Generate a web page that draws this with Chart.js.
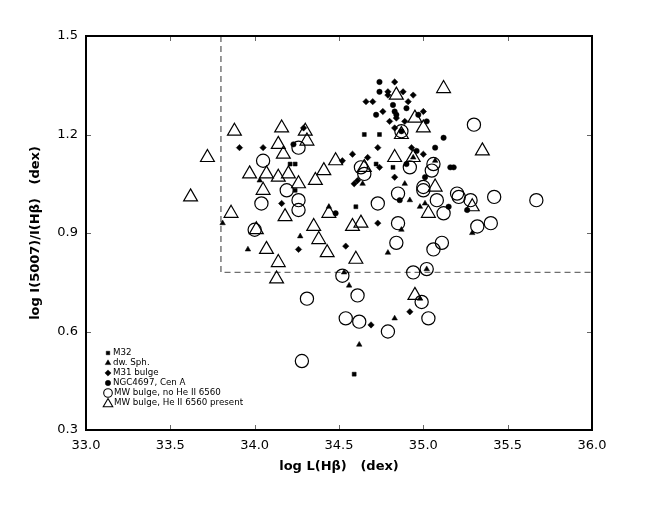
<!DOCTYPE html>
<html>
<head>
<meta charset="utf-8">
<script src="https://cdn.jsdelivr.net/npm/chart.js@4/dist/chart.umd.min.js"></script>
<style>
  body { margin: 0; background: #fff; }
  canvas { display: block; }
</style>
</head>
<body>
<canvas id="chart" width="660" height="510"></canvas>
<script>
// values
const xTicks = [33.0, 33.5, 34.0, 34.5, 35.0, 35.5, 36.0];
const yTicks = [0.3, 0.6, 0.9, 1.2, 1.5];

const m32X = [34.21, 34.24, 34.24, 34.65, 34.74, 34.72, 34.82, 34.60, 34.59];
const m32Y = [1.11, 1.11, 1.03, 1.20, 1.20, 1.11, 1.10, 0.98, 0.47];

const dwSphX = [34.03, 33.81, 34.27, 33.96, 34.64, 34.89, 35.07, 34.94, 34.92, 34.98, 34.44,
  34.79, 34.53, 34.56, 34.83, 34.62, 35.02, 35.01, 35.29, 34.98, 34.87];
const dwSphY = [1.06, 0.93, 0.89, 0.85, 1.05, 1.05, 1.12, 1.13, 1.00, 0.98, 0.98,
  0.84, 0.78, 0.74, 0.64, 0.56, 0.79, 0.99, 0.90, 0.70, 0.91];

const m31X = [33.91, 34.05, 34.29, 34.16, 34.26, 34.83, 34.79, 34.79, 34.88, 34.94, 34.66,
  34.70, 34.91, 34.76, 35.00, 34.80, 34.84, 34.89, 34.83, 34.73, 34.93, 35.00, 34.58,
  34.67, 34.52, 34.74, 34.83, 34.61, 34.59, 34.73, 34.54, 34.92, 34.69];
const m31Y = [1.16, 1.16, 1.22, 0.99, 0.85, 1.36, 1.33, 1.32, 1.33, 1.32, 1.30,
  1.30, 1.30, 1.27, 1.27, 1.24, 1.25, 1.24, 1.22, 1.16, 1.16, 1.14, 1.14,
  1.13, 1.12, 1.10, 1.07, 1.06, 1.05, 0.93, 0.86, 0.66, 0.62];

const ngcX = [34.74, 34.74, 34.82, 34.90, 34.72, 34.83, 34.84, 34.97, 35.02, 34.87, 35.12,
  35.07, 34.96, 34.90, 35.01, 35.18, 35.16, 34.86, 35.15, 35.26, 34.23, 34.48];
const ngcY = [1.36, 1.33, 1.29, 1.28, 1.26, 1.27, 1.26, 1.26, 1.24, 1.21, 1.19,
  1.16, 1.15, 1.11, 1.07, 1.10, 1.10, 1.00, 0.98, 0.97, 1.17, 0.96];

const mwNoX = [34.05, 34.26, 34.19, 34.26, 34.26, 34.04, 34.00, 34.31, 34.28, 34.63, 34.65,
  34.73, 34.52, 34.61, 34.54, 34.62, 34.79, 34.87, 34.92, 34.85, 34.85, 34.84, 34.94,
  35.02, 34.99, 35.03, 35.06, 35.05, 35.00, 35.00, 35.08, 35.12, 35.11, 35.06, 35.30,
  35.20, 35.21, 35.28, 35.42, 35.67, 35.32, 35.40];
const mwNoY = [1.12, 1.16, 1.03, 1.00, 0.97, 0.99, 0.91, 0.70, 0.51, 1.10, 1.08,
  0.99, 0.77, 0.71, 0.64, 0.63, 0.60, 1.21, 1.10, 1.02, 0.93, 0.87, 0.78,
  0.79, 0.69, 0.64, 1.11, 1.09, 1.04, 1.03, 1.00, 0.96, 0.87, 0.85, 1.23,
  1.02, 1.01, 1.00, 1.01, 1.00, 0.92, 0.93];

const mwHeX = [33.62, 33.72, 33.88, 33.86, 34.16, 34.14, 34.17, 33.97, 34.07, 34.14, 34.20,
  34.26, 34.05, 34.18, 34.07, 34.14, 34.13, 34.01, 34.30, 34.31, 34.36, 34.41, 34.48,
  34.35, 34.38, 34.43, 34.44, 34.58, 34.63, 34.60, 34.65, 34.84, 35.12, 34.95, 35.00,
  34.87, 34.83, 34.94, 35.07, 35.03, 34.95, 35.35, 35.29];
const mwHeY = [1.01, 1.13, 1.21, 0.96, 1.22, 1.17, 1.14, 1.08, 1.08, 1.07, 1.08,
  1.05, 1.03, 0.95, 0.85, 0.81, 0.76, 0.91, 1.21, 1.18, 1.06, 1.09, 1.12,
  0.92, 0.88, 0.84, 0.96, 0.92, 0.93, 0.82, 1.10, 1.32, 1.34, 1.25, 1.22,
  1.20, 1.13, 1.13, 1.04, 0.96, 0.71, 1.15, 0.98];

// dashed selection box
const boxX = [33.8, 33.8, 36.0];
const boxY = [1.5, 0.78, 0.78];

function pts(xs, ys) {
  return xs.map((x, i) => ({ x: x, y: ys[i] }));
}

const FONT = "'DejaVu Sans', Verdana, sans-serif";

const series = [
  { label: "M32", x: m32X, y: m32Y, style: "rect", r: 2.8, open: false, lr: 2.5 },
  { label: "dw. Sph.", x: dwSphX, y: dwSphY, style: "triangle", r: 3.2, open: false, lr: 3.2 },
  { label: "M31 bulge", x: m31X, y: m31Y, style: "rectRot", r: 3.2, open: false, lr: 3.1 },
  { label: "NGC4697, Cen A", x: ngcX, y: ngcY, style: "circle", r: 2.7, open: false, lr: 2.7 },
  { label: "MW bulge, no He II 6560", x: mwNoX, y: mwNoY, style: "circle", r: 6.6, open: true, lr: 4.3 },
  { label: "MW bulge, He II 6560 present", x: mwHeX, y: mwHeY, style: "triangle", r: 8, open: true, lr: 5.5 }
];

const datasets = series.map(s => ({
  label: s.label,
  data: pts(s.x, s.y),
  pointStyle: s.style,
  pointRadius: s.r,
  backgroundColor: s.open ? "rgba(0,0,0,0)" : "#000",
  borderColor: "#000",
  borderWidth: s.open ? 1.2 : 0.5
}));

datasets.push({
  type: "line",
  label: "box",
  data: pts(boxX, boxY),
  showLine: true,
  borderColor: "#6e6e6e",
  borderWidth: 1.4,
  borderDash: [6, 4],
  pointRadius: 0,
  fill: false
});

// frame with inward ticks on all four sides
const framePlugin = {
  id: "frame",
  afterDatasetsDraw(chart) {
    const ctx = chart.ctx;
    const a = chart.chartArea;
    const xs = chart.scales.x, ys = chart.scales.y;
    ctx.save();
    ctx.strokeStyle = "#666";
    ctx.lineWidth = 1;
    ctx.beginPath();
    xTicks.forEach(v => {
      const px = Math.round(xs.getPixelForValue(v)) + 0.5;
      ctx.moveTo(px, a.bottom); ctx.lineTo(px, a.bottom - 5);
      ctx.moveTo(px, a.top); ctx.lineTo(px, a.top + 5);
    });
    yTicks.forEach(v => {
      const py = Math.round(ys.getPixelForValue(v)) + 0.5;
      ctx.moveTo(a.left, py); ctx.lineTo(a.left + 5, py);
      ctx.moveTo(a.right, py); ctx.lineTo(a.right - 5, py);
    });
    ctx.stroke();
    ctx.strokeStyle = "#000";
    ctx.lineWidth = 2;
    ctx.strokeRect(a.left, a.top, a.right - a.left, a.bottom - a.top);
    ctx.restore();
  }
};

// legend inside the plot, bottom left
const legendPlugin = {
  id: "insideLegend",
  afterDraw(chart) {
    const ctx = chart.ctx;
    const draw = Chart.helpers && Chart.helpers.drawPoint;
    ctx.save();
    ctx.font = "8.7px " + FONT;
    ctx.textBaseline = "middle";
    series.forEach((s, i) => {
      const y = 353 + i * 10;
      const x = 108;
      ctx.fillStyle = s.open ? "rgba(0,0,0,0)" : "#000";
      ctx.strokeStyle = "#000";
      ctx.lineWidth = s.open ? 1.1 : 0.5;
      if (draw) {
        draw(ctx, { pointStyle: s.style, radius: s.lr, rotation: 0, borderWidth: ctx.lineWidth }, x, s.style === "triangle" && s.open ? y + 1 : y);
      }
      ctx.fillStyle = "#000";
      ctx.fillText(s.label, s.open ? 114 : 113, y);
    });
    ctx.restore();
  }
};

new Chart(document.getElementById("chart").getContext("2d"), {
  type: "scatter",
  data: { datasets: datasets },
  options: {
    responsive: false,
    animation: false,
    devicePixelRatio: 1,
    events: [],
    layout: { padding: { top: 36, right: 68, left: 0, bottom: 0 } },
    plugins: { legend: { display: false }, tooltip: { enabled: false } },
    scales: {
      x: {
        type: "linear",
        min: 33, max: 36,
        afterFit: s => { s.height = 80; },
        afterBuildTicks: s => { s.ticks = xTicks.map(v => ({ value: v })); },
        ticks: {
          callback: v => Number(v).toFixed(1),
          font: { family: FONT, size: 13 },
          color: "#000",
          padding: 8,
          maxRotation: 0
        },
        grid: { display: false, drawTicks: false },
        border: { display: false },
        title: {
          display: true,
          text: "log L(H\u03B2)   (dex)",
          font: { family: FONT, size: 13, weight: "bold" },
          color: "#000",
          padding: { top: 0, bottom: 36 }
        }
      },
      y: {
        min: 0.3, max: 1.5,
        afterFit: s => { s.width = 86; },
        afterBuildTicks: s => { s.ticks = yTicks.map(v => ({ value: v })); },
        ticks: {
          callback: v => Number(v).toFixed(1),
          font: { family: FONT, size: 13 },
          color: "#000",
          padding: 8
        },
        grid: { display: false, drawTicks: false },
        border: { display: false },
        title: {
          display: true,
          text: "log I(5007)/I(H\u03B2)   (dex)",
          font: { family: FONT, size: 13, weight: "bold" },
          color: "#000",
          padding: { top: 28, bottom: 0 }
        }
      }
    }
  },
  plugins: [framePlugin, legendPlugin]
});
</script>
</body>
</html>
